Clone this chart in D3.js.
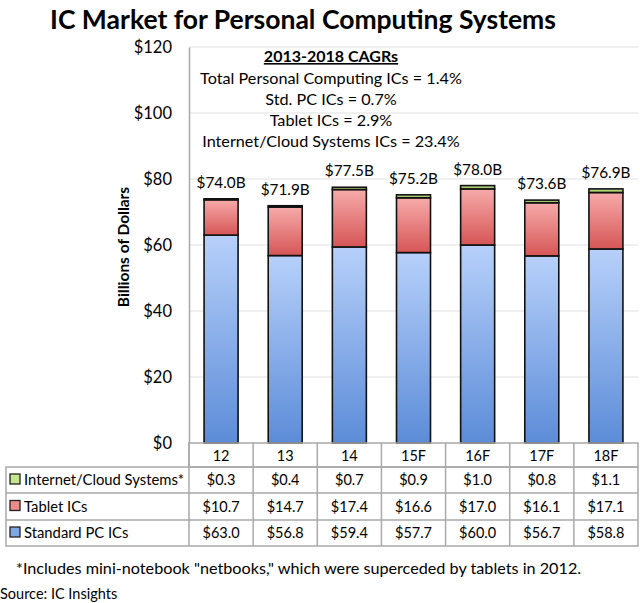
<!DOCTYPE html>
<html><head><meta charset="utf-8">
<script src="https://cdn.jsdelivr.net/npm/d3@7"></script>
<style>body{margin:0;background:#fff}svg{display:block}text{font-family:Lato,"Open Sans",sans-serif;fill:#000}</style>
</head><body>
<svg id="c" width="640" height="603"></svg>
<script>
const categories = ["12","13","14","15F","16F","17F","18F"];
const cloud = [0.3,0.4,0.7,0.9,1.0,0.8,1.1];
const tablet = [10.7,14.7,17.4,16.6,17.0,16.1,17.1];
const pc = [63.0,56.8,59.4,57.7,60.0,56.7,58.8];
const totalLabels = ["$74.0B","$71.9B","$77.5B","$75.2B","$78.0B","$73.6B","$76.9B"];
const yTicks = [0,20,40,60,80,100,120];
const seriesNames = ["Internet/Cloud Systems*","Tablet ICs","Standard PC ICs"];
const cagrTitle = "2013-2018 CAGRs";
const cagrLines = ["Total Personal Computing ICs = 1.4%","Std. PC ICs = 0.7%","Tablet ICs = 2.9%","Internet/Cloud Systems ICs = 23.4%"];

const svg = d3.select("#c");
const L = 189, R = 638, T = 47, B = 443;
const x = d3.scaleBand().domain(categories).range([L, R]).paddingInner(0).paddingOuter(0);
const y = d3.scaleLinear().domain([0,120]).range([B, T]);

const defs = svg.append("defs");
function grad(id, c1, c2){
  const g = defs.append("linearGradient").attr("id",id).attr("x1",0).attr("y1",0).attr("x2",0).attr("y2",1);
  g.append("stop").attr("offset","0%").attr("stop-color",c1);
  g.append("stop").attr("offset","100%").attr("stop-color",c2);
}
grad("gBlue","#b7d0fa","#5c8cd8");
grad("gRed","#f7aaaa","#d65656");
grad("gGreen","#cde99c","#8db04c");

// title
svg.append("text").attr("x",303).attr("y",29).attr("text-anchor","middle")
  .style("font-size","26.5px").style("font-weight","bold").text("IC Market for Personal Computing Systems");

// gridlines
svg.append("g").selectAll("line").data(yTicks.filter(d=>d>0)).join("line")
  .attr("x1",L).attr("x2",R).attr("y1",d=>y(d)).attr("y2",d=>y(d))
  .attr("stroke","#e2e2e2").attr("stroke-width",1.2);

// y axis
const ya = svg.append("g").attr("transform",`translate(${L},0)`)
  .call(d3.axisLeft(y).tickValues(yTicks).tickFormat(d=>"$"+d).tickSize(0).tickPadding(17));
ya.select(".domain").attr("stroke","#a8a8a8").attr("stroke-width",1.5);
ya.selectAll("text").style("font-size","16.5px").style("font-family","Lato, sans-serif").attr("fill","#000");

svg.append("text").attr("transform",`translate(129,${(T+B)/2+2}) rotate(-90)`).attr("text-anchor","middle")
  .style("font-size","15.5px").style("font-weight","bold").text("Billions of Dollars");

// CAGR annotation
svg.append("text").attr("x",331).attr("y",62).attr("text-anchor","middle")
  .style("font-size","16px").style("font-weight","bold").style("text-decoration","underline").text(cagrTitle);
svg.append("g").selectAll("text").data(cagrLines).join("text")
  .attr("x",331).attr("y",(d,i)=>84+i*21).attr("text-anchor","middle")
  .style("font-size","16.2px").text(d=>d);

// stacked bars
const rows = categories.map((c,i)=>({cat:c, pc:pc[i], tablet:tablet[i], cloud:cloud[i]}));
const stack = d3.stack().keys(["pc","tablet","cloud"])(rows);
const fills = {pc:"url(#gBlue)", tablet:"url(#gRed)", cloud:"url(#gGreen)"};
const bw = 34;
stack.forEach(s=>{
  svg.append("g").selectAll("rect").data(s).join("rect")
    .attr("x",d=>x(d.data.cat)+x.bandwidth()/2-bw/2)
    .attr("width",bw)
    .attr("y",d=>y(d[1]))
    .attr("height",d=>y(d[0])-y(d[1]))
    .attr("fill",fills[s.key]).attr("stroke","#111").attr("stroke-width",1.6);
});
svg.append("g").selectAll("text").data(rows).join("text")
  .attr("x",d=>x(d.cat)+x.bandwidth()/2)
  .attr("y",(d,i)=>y(d.pc+d.tablet+d.cloud)-11)
  .attr("text-anchor","middle").style("font-size","15.3px")
  .text((d,i)=>totalLabels[i]);

// data table
const tb = svg.append("g");
const hTop = 443, hBot = 467, rowH = [467,493,520,546];
const tLeft = 6;
const lineC = "#a9a9a9";
tb.append("rect").attr("x",L).attr("y",hTop).attr("width",R-L).attr("height",hBot-hTop).attr("fill","none").attr("stroke",lineC).attr("stroke-width",1.5);
tb.append("rect").attr("x",tLeft).attr("y",rowH[0]).attr("width",R-tLeft).attr("height",rowH[3]-rowH[0]).attr("fill","none").attr("stroke",lineC).attr("stroke-width",1.5);
[rowH[1],rowH[2]].forEach(v=>tb.append("line").attr("x1",tLeft).attr("x2",R).attr("y1",v).attr("y2",v).attr("stroke",lineC).attr("stroke-width",1.5));
categories.forEach((c,i)=>{
  const xx = x(c);
  tb.append("line").attr("x1",xx).attr("x2",xx).attr("y1",hTop).attr("y2",rowH[3]).attr("stroke",lineC).attr("stroke-width",1.5);
});
tb.selectAll("text.h").data(categories).join("text").attr("class","h")
  .attr("x",d=>x(d)+x.bandwidth()/2).attr("y",461).attr("text-anchor","middle").style("font-size","14.5px").text(d=>d);
const tableSeries = [cloud, tablet, pc];
const legFill = ["#c6e68e","#ee8a8a","#7ea7e8"];
tableSeries.forEach((arr,r)=>{
  const cy = (rowH[r]+rowH[r+1])/2;
  tb.append("rect").attr("x",10).attr("y",cy-6).attr("width",10).attr("height",10)
    .attr("fill",legFill[r]).attr("stroke","#222").attr("stroke-width",1.3);
  tb.append("text").attr("x",24).attr("y",cy+5).style("font-size","14.8px").text(seriesNames[r]);
  tb.selectAll(null).data(arr).join("text")
    .attr("x",(d,i)=>x(categories[i])+x.bandwidth()/2).attr("y",cy+5).attr("text-anchor","middle")
    .style("font-size","14.5px").text(d=>"$"+d.toFixed(1));
});

svg.append("text").attr("x",16).attr("y",574).style("font-size","16.2px")
  .text('*Includes mini-notebook "netbooks," which were superceded by tablets in 2012.');
svg.append("text").attr("x",0).attr("y",599).style("font-size","14.5px").text("Source: IC Insights");
</script>
</body></html>
